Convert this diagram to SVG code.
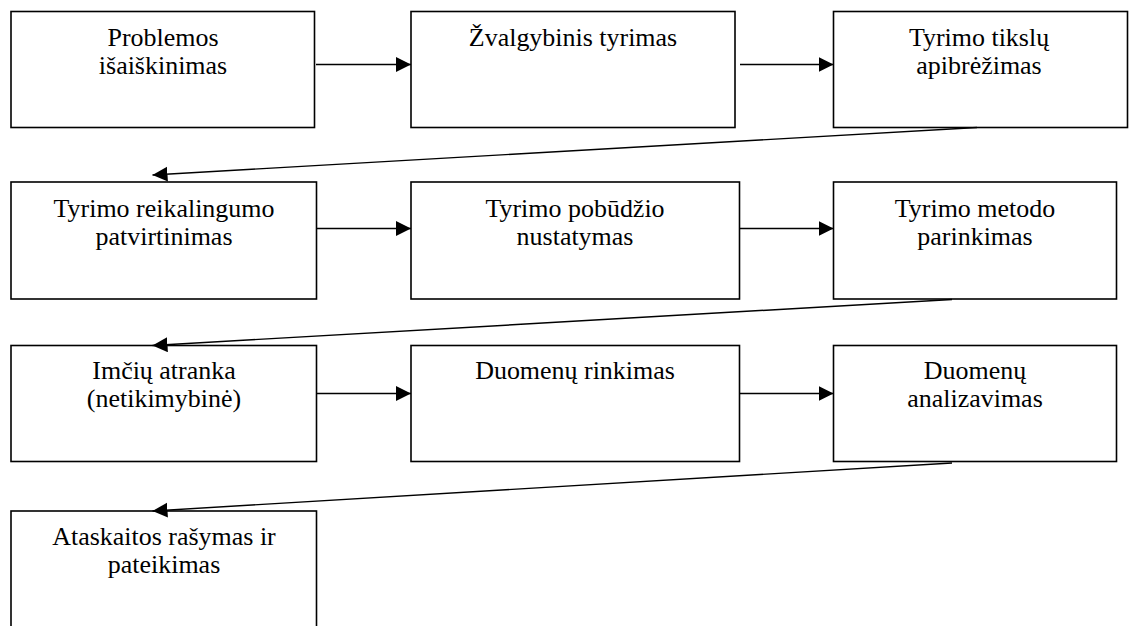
<svg xmlns="http://www.w3.org/2000/svg" width="1137" height="626" viewBox="0 0 1137 626">
<style>
.box{fill:#fff;stroke:#000;stroke-width:1.6}
.ln{fill:none;stroke:#000;stroke-width:1.4}
.t{font-family:"Liberation Serif","Times New Roman",serif;font-size:24.5px;text-anchor:middle;fill:#000}
</style>
<defs>
<marker id="ah" markerUnits="userSpaceOnUse" markerWidth="16" markerHeight="16" refX="15" refY="7.5" orient="auto">
<path d="M0,0 L15,7.5 L0,15 Z" fill="#000"/>
</marker>
</defs>
<rect width="1137" height="626" fill="#fff"/>
<g id="n1"><rect class="box" x="11" y="11.5" width="303.5" height="116"/>
<text class="t" transform="translate(163 46) scale(1.06 1)"><tspan x="0" y="0">Problemos</tspan><tspan x="0" y="28.5">išaiškinimas</tspan></text></g>
<g id="n2"><rect class="box" x="411" y="11.5" width="324" height="116"/>
<text class="t" transform="translate(573 46) scale(1.06 1)"><tspan x="0" y="0">Žvalgybinis tyrimas</tspan></text></g>
<g id="n3"><rect class="box" x="833.5" y="11.5" width="294" height="116"/>
<text class="t" transform="translate(979 46) scale(1.06 1)"><tspan x="0" y="0">Tyrimo tikslų</tspan><tspan x="0" y="28.5">apibrėžimas</tspan></text></g>
<g id="n4"><rect class="box" x="11" y="182" width="305.5" height="117"/>
<text class="t" transform="translate(164 216.5) scale(1.06 1)"><tspan x="0" y="0">Tyrimo reikalingumo</tspan><tspan x="0" y="28.5">patvirtinimas</tspan></text></g>
<g id="n5"><rect class="box" x="411" y="182" width="328.5" height="117"/>
<text class="t" transform="translate(575 216.5) scale(1.06 1)"><tspan x="0" y="0">Tyrimo pobūdžio</tspan><tspan x="0" y="28.5">nustatymas</tspan></text></g>
<g id="n6"><rect class="box" x="833.5" y="182" width="283" height="117"/>
<text class="t" transform="translate(975 216.5) scale(1.06 1)"><tspan x="0" y="0">Tyrimo metodo</tspan><tspan x="0" y="28.5">parinkimas</tspan></text></g>
<g id="n7"><rect class="box" x="11" y="345.5" width="305.5" height="116"/>
<text class="t" transform="translate(164 379) scale(1.06 1)"><tspan x="0" y="0">Imčių atranka</tspan><tspan x="0" y="28.5">(netikimybinė)</tspan></text></g>
<g id="n8"><rect class="box" x="411" y="345.5" width="328.5" height="116"/>
<text class="t" transform="translate(575 379) scale(1.06 1)"><tspan x="0" y="0">Duomenų rinkimas</tspan></text></g>
<g id="n9"><rect class="box" x="833.5" y="345.5" width="283" height="116"/>
<text class="t" transform="translate(975 379) scale(1.06 1)"><tspan x="0" y="0">Duomenų</tspan><tspan x="0" y="28.5">analizavimas</tspan></text></g>
<g id="n10"><rect class="box" x="11" y="511" width="305.5" height="140"/>
<text class="t" transform="translate(164 544.5) scale(1.06 1)"><tspan x="0" y="0">Ataskaitos rašymas ir</tspan><tspan x="0" y="28.5">pateikimas</tspan></text></g>
<g id="connectors">
<line class="ln" x1="316" y1="64.5" x2="411" y2="64.5" marker-end="url(#ah)"/>
<line class="ln" x1="740" y1="64.5" x2="833.5" y2="64.5" marker-end="url(#ah)"/>
<line class="ln" x1="977" y1="127.5" x2="152.5" y2="175" marker-end="url(#ah)"/>
<line class="ln" x1="316.5" y1="228.5" x2="411" y2="228.5" marker-end="url(#ah)"/>
<line class="ln" x1="740" y1="228.5" x2="833.5" y2="228.5" marker-end="url(#ah)"/>
<line class="ln" x1="952" y1="299.5" x2="152.5" y2="345.5" marker-end="url(#ah)"/>
<line class="ln" x1="316.5" y1="393.5" x2="411" y2="393.5" marker-end="url(#ah)"/>
<line class="ln" x1="740" y1="393.5" x2="833.5" y2="393.5" marker-end="url(#ah)"/>
<line class="ln" x1="952" y1="463" x2="152.5" y2="511" marker-end="url(#ah)"/>
</g>
</svg>
